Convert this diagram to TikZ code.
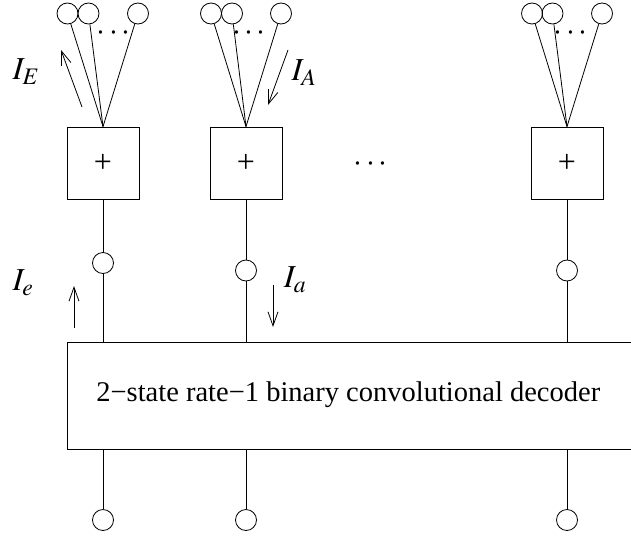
\documentclass[tikz,border=0pt]{standalone}
\usepackage{mathptmx}
\usepackage[no-math]{fontspec}
\setmainfont{Liberation Serif}
\usetikzlibrary{arrows.meta}
\tikzset{
  x=1pt, y=-1pt,
  ring/.style={circle, draw, minimum size=21pt, inner sep=0pt},
  plusbox/.style={draw, minimum size=72pt, inner sep=0pt, font=\fontsize{32}{38}\selectfont},
  lab/.style={font=\fontsize{32}{38}\selectfont, inner sep=0pt},
  dtxt/.style={font=\fontsize{28.5}{34}\selectfont, inner sep=0pt},
  dots/.style={font=\fontsize{32}{38}\selectfont, inner sep=0pt, anchor=base},
  flow/.style={-{Straight Barb[length=14pt,width=10pt,line width=0.8pt]}},
}
\begin{document}
\begin{tikzpicture}[line width=0.8pt]
\useasboundingbox (0,0) rectangle (631,535);
\clip (0,0) rectangle (631,535);
% plus boxes
\node[plusbox] (p1) at (103,163) {+};
\node[plusbox] (p2) at (246,163) {+};
\node[plusbox] (p3) at (567,163) {+};
% top circles
\node[ring] (t1a) at (67.5,13.5) {};
\node[ring] (t1b) at (88.5,13.5) {};
\node[ring] (t1c) at (138,13.5) {};
\node[ring] (t2a) at (211,13.5) {};
\node[ring] (t2b) at (232,13.5) {};
\node[ring] (t2c) at (281,13.5) {};
\node[ring] (t3a) at (532,13.5) {};
\node[ring] (t3b) at (552.5,13.5) {};
\node[ring] (t3c) at (602,13.5) {};
\foreach \c in {1,2,3}{
  \foreach \s in {a,b,c}{
    \draw (p\c.north) -- (t\c\s);
  }
}
% dots
\node[dots] (e1) at (113.5,41) {$\cdots$};
\node[dots] (e2) at (249,41) {$\cdots$};
\node[dots] (e3) at (570.5,41) {$\cdots$};
\node[dots] (em) at (370.5,171) {$\cdots$};
% middle circles
\node[ring] (m1) at (103,263) {};
\node[ring] (m2) at (246,270.5) {};
\node[ring] (m3) at (567,270.5) {};
% decoder
\node[draw, minimum width=600pt, minimum height=107pt, anchor=north west, inner sep=0pt] (dec) at (67,342) {};
\node[dtxt, anchor=base west] (dtext) at (96,401) {2\textminus state rate\textminus 1 binary convolutional decoder};
% bottom circles
\node[ring] (b1) at (103,520) {};
\node[ring] (b2) at (246,520) {};
\node[ring] (b3) at (567,520) {};
\foreach \c in {1,2,3}{
  \draw (p\c.south) -- (m\c);
  \draw (m\c) -- (m\c |- dec.north);
  \draw (b\c |- dec.south) -- (b\c);
}
% labels
\node[lab] (lE) at (26,72) {$I_E$};
\node[lab] (lA) at (304,73) {$I_A$};
\node[lab] (le) at (23,283) {$I_e$};
\node[lab] (la) at (295,280) {$I_a$};
% arrows
\coordinate (aE1) at (82,107); \coordinate (aE2) at (61,50);
\coordinate (aA1) at (288,50); \coordinate (aA2) at (268,105);
\coordinate (ae1) at (74,328); \coordinate (ae2) at (74,286);
\coordinate (aa1) at (273,285); \coordinate (aa2) at (273,327);
\draw[flow] (aE1) -- (aE2);
\draw[flow] (aA1) -- (aA2);
\draw[flow] (ae1) -- (ae2);
\draw[flow] (aa1) -- (aa2);
\end{tikzpicture}
\end{document}
